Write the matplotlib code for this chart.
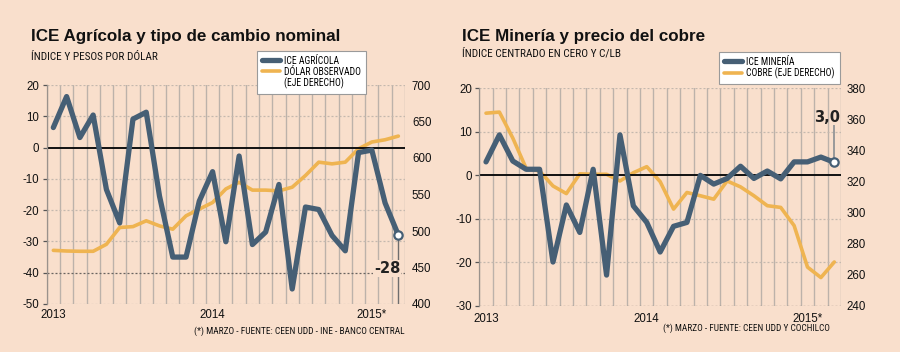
import matplotlib
matplotlib.use('Agg')
import matplotlib.pyplot as plt
from matplotlib import font_manager
from matplotlib.lines import Line2D
from matplotlib.transforms import blended_transform_factory
import numpy as np

# ---------------- data ----------------
months = ['2013-01', '2013-02', '2013-03', '2013-04', '2013-05', '2013-06', '2013-07',
          '2013-08', '2013-09', '2013-10', '2013-11', '2013-12', '2014-01', '2014-02',
          '2014-03', '2014-04', '2014-05', '2014-06', '2014-07', '2014-08', '2014-09',
          '2014-10', '2014-11', '2014-12', '2015-01', '2015-02', '2015-03']
year_labels = ['2013', '2014', '2015*']
year_months = ['2013-01', '2014-01', '2015-01']

ice_agricola = [6.4, 16.3, 3.2, 10.4, -13.4, -24.1, 9.1, 11.3, -15.5, -35.0, -35.0, -17.1,
                -7.7, -30.1, -2.7, -31.0, -27.0, -11.8, -45.2, -19.0, -19.8, -28.1, -33.0,
                -1.6, -0.8, -17.7, -28.0]
dolar_observado = [473.5, 472.6, 472.2, 472.2, 481.8, 504.8, 506.0, 514.0, 507.0, 502.5,
                   520.8, 530.0, 539.0, 557.6, 566.8, 556.0, 556.0, 555.0, 560.0, 576.0,
                   594.3, 592.0, 594.3, 612.7, 621.9, 625.0, 630.0]

ice_mineria = [3.1, 9.3, 3.3, 1.4, 1.4, -19.9, -6.8, -13.1, 1.4, -22.9, 9.3, -7.0, -10.8,
               -17.6, -11.7, -10.8, 0.0, -2.0, -0.7, 2.1, -0.7, 1.0, -0.8, 3.1, 3.1, 4.2, 3.0]
cobre = [364.0, 364.7, 348.0, 328.5, 326.8, 317.2, 312.3, 325.0, 324.7, 324.7, 320.4, 325.7,
         329.6, 320.0, 302.3, 313.0, 310.9, 308.7, 320.4, 316.6, 310.9, 304.5, 303.4, 291.7,
         265.0, 258.3, 268.3]

left_ticks_a = [20, 10, 0, -10, -20, -30, -40, -50]
right_ticks_a = [700, 650, 600, 550, 500, 450, 400]
left_ticks_b = [20, 10, 0, -10, -20, -30]
right_ticks_b = [380, 360, 340, 320, 300, 280, 260, 240]

# ---------------- style ----------------
BG = '#f9dfcc'
DARK = '#465f75'
ORANGE = '#efb451'
VGRID = '#bcb2aa'
HGRID = '#c4b8ae'
W, H = 900, 352

ttf = font_manager.fontManager.ttflist
names = {f.name for f in ttf}
NARROW = {'family': 'Roboto' if 'Roboto' in names else 'DejaVu Sans'}
for cand in ['Liberation Sans Narrow', 'Roboto Condensed', 'Open Sans Condensed',
             'DejaVu Sans Condensed']:
    if cand in names:
        NARROW = {'family': cand}
        break
else:
    for f in ttf:
        if f.name == 'DejaVu Sans' and str(f.stretch) in ('condensed', 'semi-condensed', '87.5', '75'):
            NARROW = {'family': 'DejaVu Sans', 'stretch': 'condensed'}
            break
TICKF = 'Liberation Sans' if 'Liberation Sans' in names else 'DejaVu Sans'
TITLEF = 'Liberation Sans' if 'Liberation Sans' in names else 'DejaVu Sans'

fig = plt.figure(figsize=(9, 3.52), dpi=100, facecolor=BG)


def axes_px(l, t, r, b):
    return fig.add_axes([l / W, 1 - b / H, (r - l) / W, (b - t) / H])


def fit(txt, width_px):
    fig.canvas.draw()
    r = fig.canvas.get_renderer()
    bb = txt.get_window_extent(r)
    txt.set_fontsize(txt.get_fontsize() * width_px / bb.width)


def panel(box, s_main, s_sec, lo_hi, lo_hi2, lt, rt, dark_grid, rpad, xpad):
    ax = axes_px(*box)
    ax2 = ax.twinx()
    ax.set_zorder(2)
    ax2.set_zorder(1)
    ax.patch.set_visible(False)
    ax2.patch.set_visible(False)
    x = np.arange(len(months))
    ax.set_xlim(-0.5, len(months) - 0.5)
    ax.set_ylim(*lo_hi)
    ax2.set_ylim(*lo_hi2)
    for g in np.arange(-0.5, len(months), 1.0):
        ax2.axvline(g, color=VGRID, lw=1.0, zorder=0.3)
    tr = blended_transform_factory(ax2.transAxes, ax.transData)
    for v in lt:
        if v == 0:
            continue
        c = '#6a6460' if v in dark_grid else HGRID
        ax2.plot([0, 1], [v, v], transform=tr, color=c, lw=0.9,
                 ls=(0, (1.6, 1.6)), zorder=0.4)
    ax.axhline(0, color='#111111', lw=1.4, zorder=1.5)
    l2, = ax2.plot(x, s_sec, color=ORANGE, lw=2.6, solid_joinstyle='round',
                   solid_capstyle='round', zorder=2)
    l1, = ax.plot(x, s_main, color=DARK, lw=3.8, solid_joinstyle='round',
                  solid_capstyle='round', zorder=3)
    ax.plot([x[-1]], [s_main[-1]], 'o', ms=6, mfc='white', mec=DARK, mew=1.6, zorder=4)
    ax.set_yticks(lt)
    ax.set_yticklabels([str(v) for v in lt])
    ax2.set_yticks(rt)
    ax2.set_yticklabels([str(v) for v in rt])
    ax.tick_params(axis='y', length=3, width=0.9, color='#555555', pad=2.2,
                   labelsize=8.3, labelcolor='#111111')
    ax2.tick_params(axis='y', length=0, pad=rpad, labelsize=8.3, labelcolor='#111111')
    for lab in ax.get_yticklabels() + ax2.get_yticklabels():
        lab.set_family(TICKF)
    ax.set_xticks([months.index(m) for m in year_months])
    ax.set_xticklabels(year_labels)
    ax.tick_params(axis='x', length=0, pad=xpad, labelsize=8.3, labelcolor='#111111')
    for lab in ax.get_xticklabels():
        lab.set_family(TICKF)
    for a in (ax, ax2):
        for s in a.spines.values():
            s.set_visible(False)
    ax.spines['left'].set_visible(True)
    ax.spines['left'].set_color('#9a928c')
    ax.spines['left'].set_linewidth(0.9)
    return ax, ax2, l1, l2


def make_legend(ax, handles, labels, anchor, spacing):
    leg = ax.legend(handles, labels, loc='upper left', bbox_to_anchor=anchor,
                    bbox_transform=fig.transFigure, borderaxespad=0, frameon=True,
                    fancybox=False, edgecolor='#9a9a9a', facecolor='white', framealpha=1,
                    prop=dict(NARROW, size=6.9), handlelength=1.9, handletextpad=0.45,
                    labelspacing=spacing, borderpad=0.5)
    leg.get_frame().set_linewidth(0.8)
    leg.set_zorder(10)
    return leg


blank = Line2D([], [], color='none')

# ---------------- left panel ----------------
axA, axA2, a1, a2 = panel((46.7, 85, 405, 304), ice_agricola, dolar_observado,
                          (-50, 20), (400, 700), left_ticks_a, right_ticks_a,
                          dark_grid=[-40], rpad=5, xpad=3.6)
xa = len(months) - 1
axA.plot([xa, xa], [ice_agricola[-1], -50], color='#6e6e6e', lw=1.0, zorder=3.5)
axA.text(xa + 0.15, -38.7, '-28', ha='right', va='center', fontsize=10.5,
         fontweight='bold', color='#222222', family='DejaVu Sans', zorder=5,
         bbox=dict(facecolor=BG, edgecolor='none', pad=0.6))

make_legend(axA, [a1, a2, blank], ['ICE AGRÍCOLA', 'DÓLAR OBSERVADO', '(EJE DERECHO)'],
            (257 / W, 1 - 51 / H), 0.1)

# ---------------- right panel ----------------
axB, axB2, b1, b2 = panel((479.3, 88.3, 841, 306), ice_mineria, cobre,
                          (-30, 20), (240, 380), left_ticks_b, right_ticks_b,
                          dark_grid=[-30], rpad=4, xpad=4.8)
xb = len(months) - 1
axB.plot([xb, xb], [ice_mineria[-1] + 0.9, 11.3], color='#9a9a9a', lw=1.4, zorder=3.5)
axB.text(xb - 0.55, 13.3, '3,0', ha='center', va='center', fontsize=10.5,
         fontweight='bold', color='#222222', family='DejaVu Sans', zorder=5)

make_legend(axB, [b1, b2], ['ICE MINERÍA', 'COBRE (EJE DERECHO)'],
            (719 / W, 1 - 52 / H), 0.05)

# ---------------- titles and notes ----------------
tA = fig.text(30.5 / W, 1 - 40.7 / H, 'ICE Agrícola y tipo de cambio nominal',
              fontsize=14, fontweight='bold', family=TITLEF, color='#111111',
              ha='left', va='baseline')
tB = fig.text(462.5 / W, 1 - 41.5 / H, 'ICE Minería y precio del cobre',
              fontsize=14, fontweight='bold', family=TITLEF, color='#111111',
              ha='left', va='baseline')
sA = fig.text(30.5 / W, 1 - 57 / H, 'ÍNDICE Y PESOS POR DÓLAR', fontsize=7.5,
              color='#111111', ha='left', va='center', **NARROW)
sB = fig.text(462.5 / W, 1 - 53.5 / H, 'ÍNDICE CENTRADO EN CERO Y C/LB', fontsize=7.5,
              color='#111111', ha='left', va='center', **NARROW)
nA = fig.text(405 / W, 1 - 331.7 / H, '(*) MARZO - FUENTE: CEEN UDD - INE - BANCO CENTRAL',
              fontsize=7, color='#111111', ha='right', va='center', **NARROW)
nB = fig.text(830 / W, 1 - 328.5 / H, '(*) MARZO - FUENTE: CEEN UDD Y COCHILCO',
              fontsize=7, color='#111111', ha='right', va='center', **NARROW)

fit(tA, 310)
fit(tB, 242)
fit(sA, 126)
fit(sB, 158)
fit(nA, 210)
fit(nB, 168)

fig.savefig('out.png', dpi=100, facecolor=BG)
